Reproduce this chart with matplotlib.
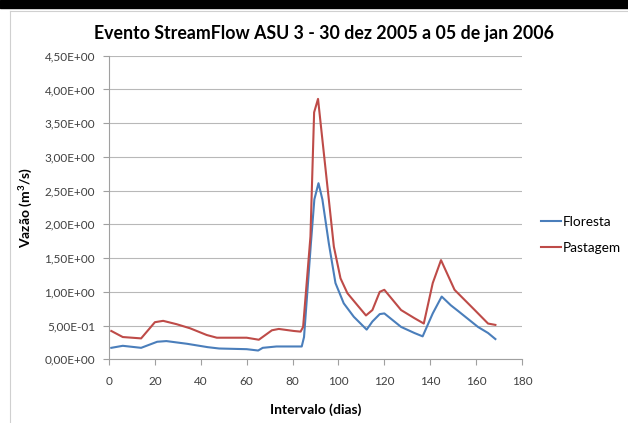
import matplotlib.pyplot as plt
from matplotlib.patches import Rectangle
from matplotlib.lines import Line2D

# leitura aproximada do gráfico original
floresta_x = [1, 6, 14, 21, 25, 34, 43, 48, 60, 65, 67, 73, 84, 85, 88, 89.5, 91.3, 93, 95.8, 98.7,
              102.3, 106.7, 112.3, 114.8, 118, 120, 127.3, 133.1, 136.7, 141.1, 145, 149, 152,
              160.8, 165.2, 168.4]
floresta_y = [0.17, 0.20, 0.17, 0.26, 0.27, 0.23, 0.18, 0.16, 0.15, 0.13, 0.17, 0.19, 0.19, 0.33,
              1.72, 2.37, 2.61, 2.37, 1.72, 1.13, 0.83, 0.63, 0.44, 0.56, 0.67, 0.68, 0.48, 0.39,
              0.34, 0.68, 0.93, 0.80, 0.72, 0.48, 0.39, 0.30]

pastagem_x = [1, 6, 14, 20, 23.6, 29.5, 35.3, 42.6, 47, 60, 65.3, 71, 74, 80.5, 83.5, 84.6, 87.8,
              89.4, 91.1, 92.2, 95.8, 98, 100.9, 103.9, 108.3, 112, 114.8, 118, 120, 127.3, 133.1,
              137.2, 141.1, 144.7, 150.6, 159.4, 165.2, 168.4]
pastagem_y = [0.42, 0.33, 0.31, 0.55, 0.57, 0.52, 0.46, 0.36, 0.32, 0.32, 0.29, 0.43, 0.45, 0.42,
              0.41, 0.48, 1.82, 3.66, 3.86, 3.51, 2.37, 1.67, 1.20, 0.98, 0.80, 0.65, 0.73, 1.00,
              1.03, 0.73, 0.61, 0.53, 1.13, 1.47, 1.03, 0.73, 0.53, 0.51]

x_ticks = list(range(0, 181, 20))
y_ticks = [0, 0.5, 1.0, 1.5, 2.0, 2.5, 3.0, 3.5, 4.0, 4.5]

plt.rcParams['font.family'] = ['Lato', 'DejaVu Sans']
plt.rcParams['mathtext.fontset'] = 'custom'
plt.rcParams['mathtext.rm'] = 'Lato'
plt.rcParams['mathtext.bf'] = 'Lato:bold'

fig = plt.figure(figsize=(6.28, 4.23), dpi=100)
W, H = 628, 423

# faixa preta no topo e borda do gráfico
fig.patches.append(Rectangle((0, 1 - 8 / H), 1, 8 / H, transform=fig.transFigure,
                             color='black', zorder=0))
fig.lines.append(Line2D([10 / W, 1], [1 - 11 / H, 1 - 11 / H], transform=fig.transFigure,
                        color='#d0d0d0', lw=0.8))
fig.lines.append(Line2D([10 / W, 10 / W], [0, 1 - 11 / H], transform=fig.transFigure,
                        color='#d0d0d0', lw=0.8))

ax = fig.add_axes([109 / W, 1 - 359.3 / H, (522 - 109) / W, (359.3 - 55.7) / H])

ax.plot(floresta_x, floresta_y, color='#4a7ebb', lw=1.5, label='Floresta')
ax.plot(pastagem_x, pastagem_y, color='#be4b48', lw=1.5, label='Pastagem')

ax.set_xlim(0, 180)
ax.set_ylim(0, 4.5)
ax.set_xticks(x_ticks)
ax.set_yticks(y_ticks)
ax.set_yticklabels([f'{v:.2E}'.replace('.', ',') for v in y_ticks])
ax.grid(axis='y', color='#b8b8b8', lw=0.8)
ax.set_axisbelow(True)

for s in ['top', 'right']:
    ax.spines[s].set_visible(False)
for s in ['left', 'bottom']:
    ax.spines[s].set_color('#a0a0a0')
    ax.spines[s].set_linewidth(0.8)
ax.tick_params(colors='#a0a0a0', labelcolor='#404040', labelsize=8.5, length=4, width=0.8)
ax.tick_params(axis='x', pad=8)
ax.tick_params(axis='y', pad=6)

ax.set_xlabel('Intervalo (dias)', fontsize=10, fontweight='bold', labelpad=12)
ax.set_ylabel(r'Vazão (m$\mathbf{^3}$/s)', fontsize=10, fontweight='bold', labelpad=7)

fig.text(324 / W, 1 - 33 / H, 'Evento StreamFlow ASU 3 - 30 dez 2005 a 05 de jan 2006',
         ha='center', va='center', fontsize=12.8, fontweight='bold')

fig.legend(loc='center left', bbox_to_anchor=(541 / W, 1 - 235 / H), frameon=False,
           fontsize=9.8, handlelength=1.45, handletextpad=0.15, labelspacing=1.0,
           borderpad=0, borderaxespad=0)

fig.savefig('out.png', dpi=100)
